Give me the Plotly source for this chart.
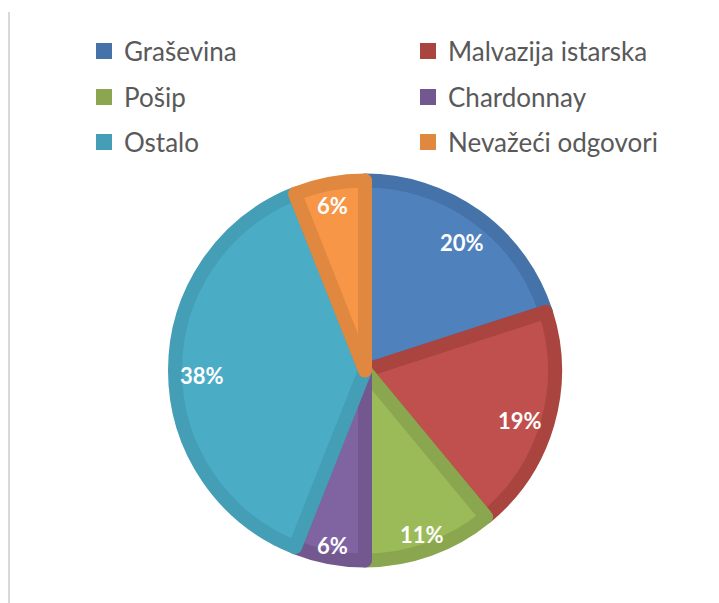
import math
import plotly.graph_objects as go

labels = ["Graševina", "Malvazija istarska", "Pošip", "Chardonnay", "Ostalo", "Nevažeći odgovori"]
values = [20, 19, 11, 6, 38, 6]
fill_colors = ["#4F81BD", "#C0504D", "#9BBB59", "#8064A2", "#4BACC6", "#F79646"]
edge_colors = ["#4572A8", "#A9443F", "#8AA64E", "#73588F", "#449EB6", "#E0883F"]

W, H = 719, 603
cx, cy, r = 365, 370.5, 190
line_w = 14

fig = go.Figure()
fig.add_trace(go.Pie(
    labels=labels, values=values, sort=False, direction="clockwise", rotation=0,
    marker=dict(colors=fill_colors, line=dict(color=edge_colors, width=line_w)),
    textinfo="none",
    showlegend=False, hoverinfo="label+percent",
    domain=dict(x=[(cx - r) / W, (cx + r) / W], y=[(H - cy - r) / H, (H - cy + r) / H]),
))

# percentage labels placed at the inside end of each slice (computed from the values)
total = sum(values)
annotations = []
cum = 0
r_in = 185
for v in values:
    mid = (cum + v / 2) / total * 2 * math.pi
    cum += v
    txt = f"{round(v / total * 100)}%"
    tw, th = 14.7 * len(txt), 18
    rl = r_in - (abs(math.sin(mid)) * tw / 2 + abs(math.cos(mid)) * th / 2)
    px = cx + rl * math.sin(mid)
    py = cy - rl * math.cos(mid)
    annotations.append(dict(
        x=px / W, y=1 - py / H, xref="paper", yref="paper", showarrow=False,
        xanchor="center", yanchor="middle", yshift=-5,
        text=txt,
        font=dict(family="Lato", size=22, color="white", weight="bold"),
    ))

# legend entries: 3 rows x 2 columns
col_x = [84, 408]
row_y = [51, 97, 142]
legend_layout = {}
for i, (lab, col) in enumerate(zip(labels, edge_colors)):
    name = "legend" if i == 0 else f"legend{i+1}"
    fig.add_trace(go.Scatter(x=[None], y=[None], mode="markers", name=lab,
                             marker=dict(symbol="square", size=17, color=col),
                             legend=name, showlegend=True, hoverinfo="skip"))
    legend_layout[name] = dict(
        x=col_x[i % 2] / W, xanchor="left", y=1 - row_y[i // 2] / H, yanchor="middle",
        orientation="v", bgcolor="rgba(0,0,0,0)",
        font=dict(family="Lato", size=26, color="#595959"),
    )

fig.update_layout(
    width=W, height=H, margin=dict(l=0, r=0, t=0, b=0),
    paper_bgcolor="white", plot_bgcolor="white",
    xaxis=dict(visible=False), yaxis=dict(visible=False),
    annotations=annotations,
    shapes=[dict(type="line", xref="paper", yref="paper", x0=9 / W, x1=9 / W,
                 y0=0, y1=1 - 12 / H, line=dict(color="#D9D9D9", width=2))],
    **legend_layout,
)

fig.write_html("out.html")
